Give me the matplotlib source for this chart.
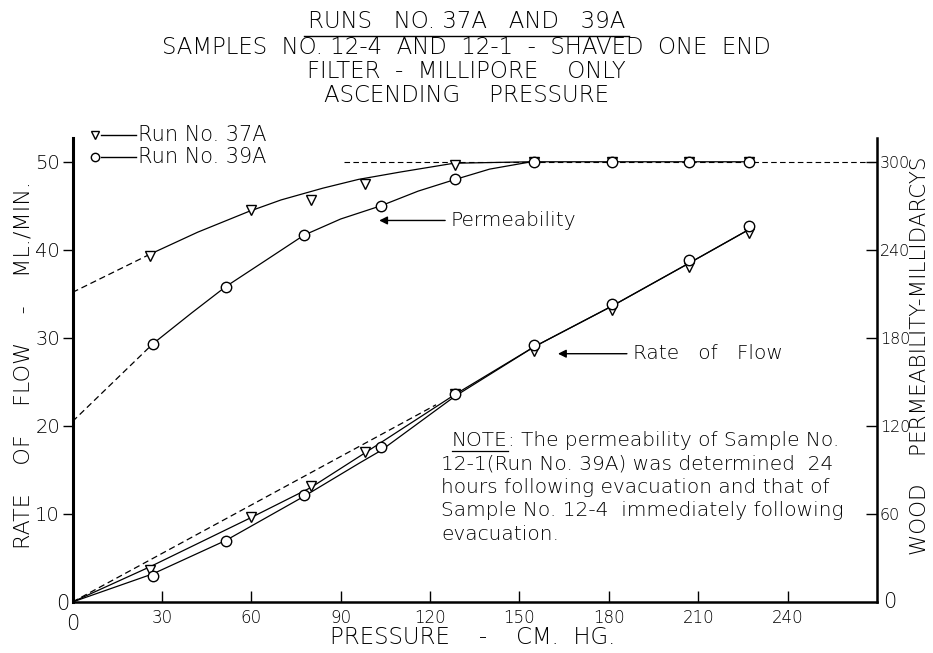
import matplotlib
matplotlib.use("Agg")
import matplotlib.pyplot as plt
from matplotlib.lines import Line2D

plt.rcParams['font.family'] = ['DejaVu Sans']
plt.rcParams['font.weight'] = 'light'
plt.rcParams['axes.labelweight'] = 'light'

# measured points (pressure cm Hg)
p37 = [26, 60, 80, 98, 128.5, 155, 181, 207, 227]
p39 = [27, 51.5, 77.7, 103.5, 128.5, 155, 181, 207, 227]
rate37 = [3.6, 9.6, 13.2, 17.0, 23.6, 28.5, 33.2, 38.1, 41.9]
rate39 = [3.0, 6.9, 12.2, 17.6, 23.6, 29.2, 33.8, 38.9, 42.7]
perm37 = [236, 267, 274, 285, 298, 300, 300, 300, 300]
perm39 = [176, 215, 250, 270, 288, 300, 300, 300, 300]

# hand-faired curves through the points
fit_rate37_p = [0, 26, 60, 80, 98, 128.5, 155, 181, 207, 227]
fit_rate37 = [0, 4.0, 9.6, 13.0, 16.9, 23.6, 29.0, 33.6, 38.5, 42.3]
fit_rate39_p = [0, 27, 51.5, 77.7, 96.4, 103.5, 128.5, 155, 181, 207, 227]
fit_rate39 = [0, 3.2, 7.0, 12.0, 15.8, 17.2, 23.4, 29.0, 33.6, 38.5, 42.3]
ref_rate_p = [0, 122]
ref_rate = [0, 22.4]

fit_perm37_p = [26, 42, 59, 70, 84, 96, 110, 128, 154, 227]
fit_perm37 = [237, 252, 266, 274, 282, 288, 293, 299, 300, 300]
fit_perm39_p = [27, 40, 51.5, 65, 77.7, 90, 103.5, 116, 128.5, 140, 154]
fit_perm39 = [176, 197, 215, 233, 250, 261, 270, 280, 288, 295, 300]
extrap37_p = [0, 26]
extrap37 = [211, 237]
extrap39_p = [0, 27]
extrap39 = [123, 176]
limit_p = [91, 270]
limit = [300, 300]

xticks = [30, 60, 90, 120, 150, 180, 210, 240]
yticks = [10, 20, 30, 40, 50]
rticks = [60, 120, 180, 240, 300]

W, H = 933, 653
fig = plt.figure(figsize=(9.33, 6.53), dpi=100)
x0, x1, y0, y1 = 72.5, 877, 602, 138
ax = fig.add_axes([x0 / W, (H - y0) / H, (x1 - x0) / W, (y0 - y1) / H])
ax2 = ax.twinx()

ymax = 52.7
ax.set_xlim(0, 270)
ax.set_ylim(0, ymax)
ax2.set_ylim(0, ymax * 6)

lw = 0.9
dash = (0, (5, 3))
k = 'black'

# rate of flow
ax.plot(ref_rate_p, ref_rate, color=k, lw=lw, linestyle=dash)
ax.plot(fit_rate37_p, fit_rate37, color=k, lw=lw)
ax.plot(fit_rate39_p, fit_rate39, color=k, lw=lw)
ax.plot(p37, rate37, 'v', ms=7, mfc='white', mec=k, mew=1.0)
ax.plot(p39, rate39, 'o', ms=7.5, mfc='white', mec=k, mew=1.0)

# permeability
ax2.plot(extrap37_p, extrap37, color=k, lw=lw, linestyle=dash)
ax2.plot(extrap39_p, extrap39, color=k, lw=lw, linestyle=dash)
ax2.plot(limit_p, limit, color=k, lw=0.8, linestyle=dash)
ax2.plot(fit_perm37_p, fit_perm37, color=k, lw=lw)
ax2.plot(fit_perm39_p, fit_perm39, color=k, lw=lw)
ax2.plot(p37, perm37, 'v', ms=7, mfc='white', mec=k, mew=1.0)
ax2.plot(p39, perm39, 'o', ms=7.5, mfc='white', mec=k, mew=1.0)

# spines and ticks
for a in (ax, ax2):
    a.spines['top'].set_visible(False)
ax.spines['left'].set_linewidth(2.2)
ax.spines['bottom'].set_linewidth(1.8)
ax2.spines['right'].set_linewidth(1.8)
ax2.spines['left'].set_visible(False)
ax2.spines['bottom'].set_visible(False)

ax.set_xticks(xticks)
ax.set_xticklabels([str(v) for v in xticks])
ax.tick_params(axis='x', direction='in', length=8, width=1, labelsize=12, pad=5)
ax.set_yticks(yticks)
ax.set_yticklabels([str(v) for v in yticks])
ax.tick_params(axis='y', direction='out', length=7, width=1, labelsize=14, pad=2)
ax2.set_yticks(rticks)
ax2.set_yticklabels([str(v) for v in rticks])
ax2.tick_params(axis='y', direction='in', length=8, width=1, labelsize=11.5, pad=2)

# zeros at the corners
ax.text(-1, -0.2, '0', fontsize=15, ha='right', va='center')
ax.text(0, -1.4, '0', fontsize=15, ha='center', va='top')
ax2.text(272, 0, '0', fontsize=15, ha='left', va='center')

ax.set_xlabel('PRESSURE    -    CM.  HG.', fontsize=16.5, va='center', ha='center')
ax.xaxis.set_label_coords(0.497, -0.076)
ax.set_ylabel('RATE    OF    FLOW    -    ML./MIN.', fontsize=16, va='center', ha='center')
ax.yaxis.set_label_coords(-0.061, 0.51)
ax2.set_ylabel('WOOD    PERMEABILITY-MILLIDARCYS', fontsize=15.5, rotation=90,
               va='center', ha='center')
ax2.yaxis.set_label_coords(1.053, 0.53)

# annotations
ax2.annotate('', xy=(102, 260), xytext=(126, 260),
             arrowprops=dict(arrowstyle='-|>', color=k, lw=1.0, mutation_scale=12))
ax2.text(127, 260, 'Permeability', fontsize=14.5, ha='left', va='center')
ax.annotate('', xy=(162, 28.2), xytext=(187, 28.2),
            arrowprops=dict(arrowstyle='-|>', color=k, lw=1.0, mutation_scale=12))
ax.text(188, 28.2, 'Rate   of   Flow', fontsize=14.5, ha='left', va='center')

# legend
for yy, mk, ms, label in [(1.006, 'v', 5.5, 'Run No. 37A'), (0.959, 'o', 6, 'Run No. 39A')]:
    ax.plot([0.028], [yy], mk, ms=ms, mfc='white', mec=k, mew=1.0,
            transform=ax.transAxes, clip_on=False)
    ax.plot([0.036, 0.079], [yy, yy], color=k, lw=1.0, transform=ax.transAxes, clip_on=False)
    ax.text(0.082, yy, label, fontsize=15, ha='left', va='center', transform=ax.transAxes)

# titles
titles = ['RUNS   NO. 37A   AND   39A',
          'SAMPLES  NO. 12-4  AND  12-1  -  SHAVED  ONE  END',
          'FILTER  -  MILLIPORE    ONLY',
          'ASCENDING    PRESSURE']
ty = [22, 47, 72, 96]
tobjs = []
for s, yy in zip(titles, ty):
    tobjs.append(fig.text(0.5, 1 - yy / H, s, fontsize=16.5, ha='center', va='center'))

# note block
nfs = 14.5
note_lines = ['12-1(Run No. 39A) was determined  24',
              'hours following evacuation and that of',
              'Sample No. 12-4  immediately following',
              'evacuation.']
t_note = fig.text(452 / W, 1 - 440 / H, 'NOTE', fontsize=nfs, ha='left', va='center')
fig.canvas.draw()
r = fig.canvas.get_renderer()
bb = t_note.get_window_extent(r)
fig.text(bb.x1 / W, 1 - 440 / H, ': The permeability of Sample No.', fontsize=nfs,
         ha='left', va='center')
fig.add_artist(Line2D([bb.x0 / W, bb.x1 / W], [(bb.y0 - 1) / H] * 2, color=k, lw=0.9))
for i, s in enumerate(note_lines):
    fig.text(441 / W, 1 - (464 + 23.5 * i) / H, s, fontsize=nfs, ha='left', va='center')

# underline for the first title line
tb = tobjs[0].get_window_extent(r)
fig.add_artist(Line2D([(tb.x0 - 4) / W, (tb.x1 + 4) / W], [(tb.y0 - 2) / H] * 2, color=k, lw=1.0))

fig.savefig('out.png', dpi=100)
